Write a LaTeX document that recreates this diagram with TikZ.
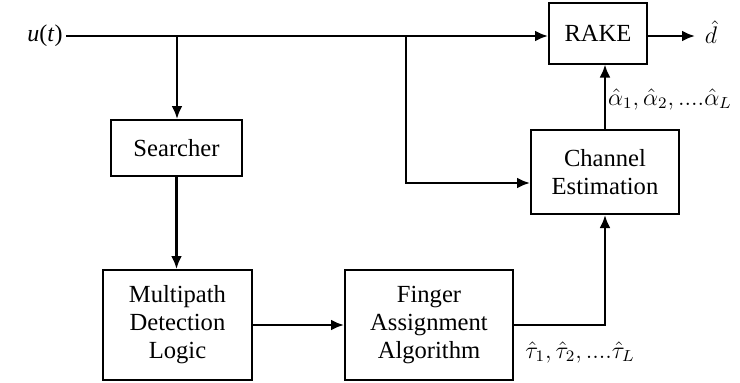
\documentclass[tikz,border=0pt]{standalone}
\usepackage{fontspec}
\setmainfont{Liberation Serif}
\usetikzlibrary{arrows.meta}
\begin{document}
\begin{tikzpicture}[x=0.5pt,y=-0.5pt,
  blk/.style={draw,line width=1pt,align=center,inner sep=0pt,font=\fontsize{12.3}{14}\selectfont},
  conn/.style={line width=1.4pt},
  arr/.style={conn,-{Latex[length=6.5pt,width=5.5pt]}},
  lbl/.style={inner sep=0pt,font=\fontsize{12}{14}\selectfont}]
\useasboundingbox (0,0) rectangle (740,382);
\node[blk,minimum width=65.5pt,minimum height=28pt] (srch) at (176.5,148) {Searcher};
\node[blk,minimum width=74.5pt,minimum height=55pt] (mdl) at (177.5,325) {Multipath\\Detection\\Logic};
\node[blk,minimum width=84pt,minimum height=55pt] (fa) at (429,325) {Finger\\Assignment\\Algorithm};
\node[blk,minimum width=74pt,minimum height=42pt] (ce) at (605,172) {Channel\\Estimation};
\node[blk,minimum width=49pt,minimum height=30.5pt] (rake) at (598,33) {RAKE};
\node[lbl] (u) at (45,36) {\textit{u}(\textit{t})};
\node[lbl] (dh) at (711,32) {$\hat{d}$};
\node[lbl] (al) at (670,99) {$\hat{\alpha}_1,\hat{\alpha}_2,....\hat{\alpha}_L$};
\node[lbl] (ta) at (580,352) {$\hat{\tau}_1,\hat{\tau}_2,....\hat{\tau}_L$};
\coordinate (in) at (66,36);
\coordinate (b1) at (177,36);
\coordinate (b2) at (406,36);
\coordinate (dout) at (695,36);
\draw[arr] (in) -- (in -| rake.west);
\draw[arr] (b1) -- (b1 |- srch.north);
\draw[arr] (srch.south) -- (srch.south |- mdl.north);
\draw[arr] (b2) |- ([yshift=-5.5pt]ce.west);
\draw[arr] (mdl.east) -- (fa.west);
\draw[arr] (fa.east) -| (ce.south);
\draw[arr] (ce.north) -- (ce.north |- rake.south);
\draw[arr] (rake.east |- in) -- (dout);
\end{tikzpicture}
\end{document}
